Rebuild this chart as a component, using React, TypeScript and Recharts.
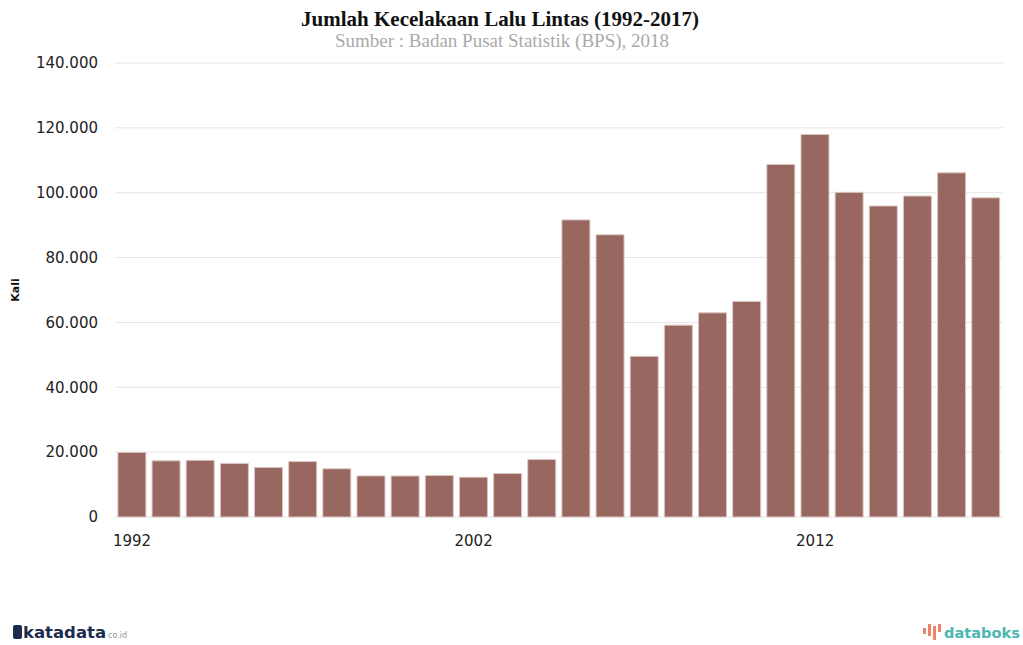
import React from "react"
import { BarChart, Bar, XAxis, YAxis, CartesianGrid } from "recharts"

const years = [
  "1992", "1993", "1994", "1995", "1996", "1997", "1998", "1999", "2000",
  "2001", "2002", "2003", "2004", "2005", "2006", "2007", "2008", "2009",
  "2010", "2011", "2012", "2013", "2014", "2015", "2016", "2017",
]

const accidents = [
  19920, 17320, 17470, 16510, 15290, 17100, 14860, 12680, 12650,
  12790, 12270, 13400, 17730, 91620, 87020, 49550, 59160, 62960,
  66490, 108700, 117950, 100110, 95910, 98970, 106130, 98420,
]

const yTicks = [0, 20000, 40000, 60000, 80000, 100000, 120000, 140000]

const title = "Jumlah Kecelakaan Lalu Lintas (1992-2017)"
const subtitle = "Sumber : Badan Pusat Statistik (BPS), 2018"

const data = years.map((year, i) => ({ year, value: accidents[i] }))

const fmt = (v: number) => v.toLocaleString("de-DE")

const tickStyle = { fontFamily: "DejaVu Sans", fontSize: 15, fill: "#222" }

export default function App() {
  return (
    <div style={{ position: "absolute", left: 0, top: 0, width: 1023, height: 645, background: "#fff" }}>
      <BarChart
        width={1023}
        height={645}
        data={data}
        margin={{ top: 63, right: 20, bottom: 98, left: 0 }}
        barCategoryGap="8.5%"
      >
        <CartesianGrid vertical={false} stroke="#e6e6e6" />
        <XAxis
          dataKey="year"
          interval={9}
          height={30}
          axisLine={false}
          tickLine={false}
          tickMargin={12}
          tick={tickStyle}
        />
        <YAxis
          width={115}
          domain={[0, 140000]}
          ticks={yTicks}
          tickFormatter={fmt}
          axisLine={false}
          tickLine={false}
          tickMargin={11}
          tick={tickStyle}
        />
        <Bar dataKey="value" fill="#98675f" stroke="#dcc6c2" strokeWidth={1} isAnimationActive={false} />
      </BarChart>
      <svg
        width={1023}
        height={645}
        style={{ position: "absolute", left: 0, top: 0, pointerEvents: "none" }}
      >
        <text x={500} y={26} textAnchor="middle" fontFamily="Liberation Serif" fontWeight="bold" fontSize={21} fill="#111">
          {title}
        </text>
        <text x={502} y={47} textAnchor="middle" fontFamily="Liberation Serif" fontSize={19} fill="#aaa">
          {subtitle}
        </text>
        <text
          x={19}
          y={290}
          transform="rotate(-90 19 290)"
          textAnchor="middle"
          fontFamily="DejaVu Sans"
          fontWeight="bold"
          fontSize={11}
          fill="#111"
        >
          Kali
        </text>
        <g>
          <rect x={13} y={625} width={9} height={14} rx={2} fill="#1d2b4f" />
          <text x={23} y={638} fontFamily="DejaVu Sans" fontWeight="bold" fontSize={16} fill="#1d2b4f" textLength={83} lengthAdjust="spacingAndGlyphs">
            katadata
          </text>
          <text x={108} y={638} fontFamily="DejaVu Sans" fontSize={8} fill="#999">
            co.id
          </text>
        </g>
        <g>
          <rect x={923} y={628} width={3} height={6} fill="#f0826b" />
          <rect x={928} y={624} width={3} height={12} fill="#f0826b" />
          <rect x={933} y={626} width={3} height={14} fill="#f0826b" />
          <rect x={938} y={624} width={3} height={8} fill="#f0826b" />
          <text x={944} y={638} fontFamily="DejaVu Sans" fontWeight="bold" fontSize={14} fill="#4db6b1" textLength={76} lengthAdjust="spacingAndGlyphs">
            databoks
          </text>
        </g>
      </svg>
    </div>
  )
}
